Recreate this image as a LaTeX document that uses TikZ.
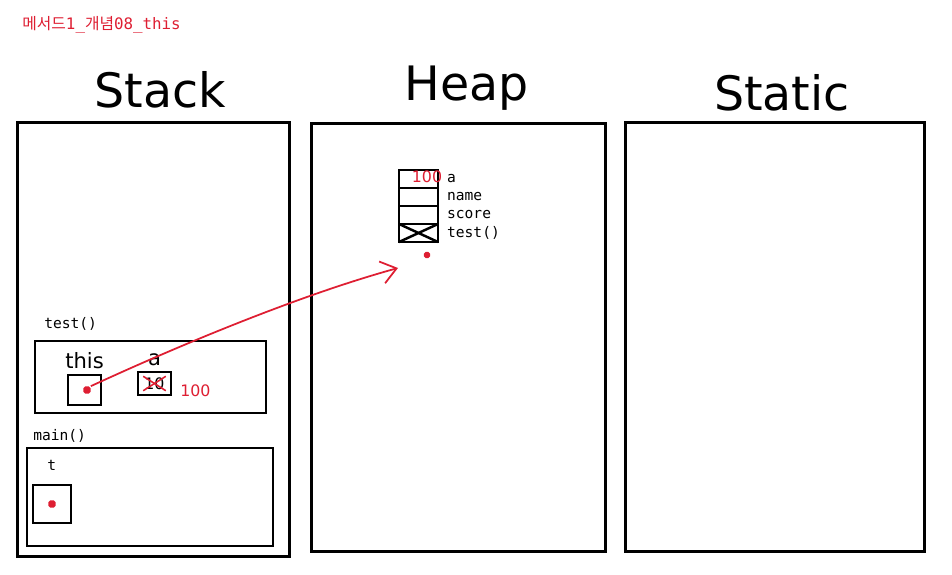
\documentclass[tikz,border=0pt]{standalone}
\usepackage{fontspec}
\setmainfont{DejaVu Sans}
\setmonofont{DejaVu Sans Mono}
\newfontfamily\krfont{Noto Sans CJK KR}
\usetikzlibrary{arrows.meta,positioning}
\usepackage{xcolor}
\definecolor{penred}{RGB}{222,30,50}

\begin{document}
\begin{tikzpicture}[
    x=0.02cm, y=-0.02cm,
    node distance=0pt,
    area/.style={draw, line width=1.7pt, inner sep=0pt},
    frame/.style={draw, line width=1.1pt, inner sep=0pt},
    slot/.style={draw, line width=1.1pt, inner sep=0pt},
    cell/.style={draw, line width=1.4pt, minimum width=0.78cm, minimum height=0.36cm, inner sep=0pt, outer sep=0pt},
    title/.style={font=\fontsize{27}{30}\selectfont},
    code/.style={font=\ttfamily\fontsize{8.3}{9}\selectfont, anchor=west, inner sep=0pt},
    hand/.style={font=\fontsize{12}{12}\selectfont, inner sep=0pt},
    redhand/.style={font=\fontsize{9}{9}\selectfont, inner sep=0pt, text=penred},
    dot/.style={fill=penred, minimum size=4pt, inner sep=0pt, rounded corners=1pt},
    ref/.style={penred, line width=1pt, -{Straight Barb[length=3mm, width=4.5mm]}},
]
    \useasboundingbox (0,0) rectangle (952,574);

    % header
    \node[anchor=west, inner sep=0pt, text=penred, font=\fontsize{9}{10}\selectfont] (header) at (22,25)
        {{\krfont 메서드}\texttt{1\_}{\krfont 개념}\texttt{08\_this}};

    % memory areas
    \node[title] (stackT) at (160,90) {Stack};
    \node[title] (heapT) at (467,88) {Heap};
    \node[title] (staticT) at (782,93) {Static};

    \node[area, minimum width=5.46cm, minimum height=8.7cm] (stack) at (153.5,339.5) {};
    \node[area, minimum width=5.9cm, minimum height=8.58cm] (heap) at (458.5,337.5) {};
    \node[area, minimum width=6cm, minimum height=8.6cm] (static) at (775,337) {};

    % stack frames
    \node[code] (testL) at (44,324) {test()};
    \node[frame, minimum width=4.62cm, minimum height=1.44cm] (testF) at (150.5,377) {};
    \node[code] (mainL) at (33,436) {main()};
    \node[frame, minimum width=4.92cm, minimum height=1.96cm] (mainF) at (150,497) {};

    % test() locals
    \node[slot, minimum width=0.66cm, minimum height=0.6cm] (thisB) at (84.5,390) {};
    \node[hand, above=3pt of thisB] (thisL) {this};
    \node[dot] (thisD) at (87,390) {};
    \node[slot, minimum width=0.66cm, minimum height=0.46cm] (aB) at (154.5,383.5) {};
    \node[hand, above=3pt of aB] (aL) {a};
    \node[inner sep=0.5pt, font=\fontsize{9}{9}\selectfont] (oldV) at (aB) {10};
    \draw[penred, line width=0.9pt] (oldV.north west) -- (oldV.south east);
    \draw[penred, line width=0.9pt] (oldV.north east) -- (oldV.south west);
    \node[redhand, anchor=west] (newV) at (180,391) {100};

    % main() locals
    \node[code] (tL) at (47,465) {t};
    \node[slot, minimum width=0.76cm, minimum height=0.76cm] (tB) at (52,504) {};
    \node[dot] (tD) at (tB) {};

    % heap object
    \node[cell] (c1) at (418.5,179) {};
    \node[cell, below=of c1] (c2) {};
    \node[cell, below=of c2] (c3) {};
    \node[cell, below=of c3] (c4) {};
    \draw[line width=1.4pt] (c4.north west) -- (c4.south east);
    \draw[line width=1.4pt] (c4.north east) -- (c4.south west);
    \node[redhand] (heapV) at (427,177) {100};
    \node[code, right=5pt of c1] (fa) {a};
    \node[code, right=5pt of c2] (fname) {name};
    \node[code, right=5pt of c3] (fscore) {score};
    \node[code, right=5pt of c4] (ftest) {test()};
    \node[dot, minimum size=3.5pt] (objD) at (427,255) {};

    % reference
    \coordinate (objRef) at (398,268);
    \draw[ref] (thisD.north east) .. controls (180,345) and (300,295) .. (objRef);

\end{tikzpicture}
\end{document}
